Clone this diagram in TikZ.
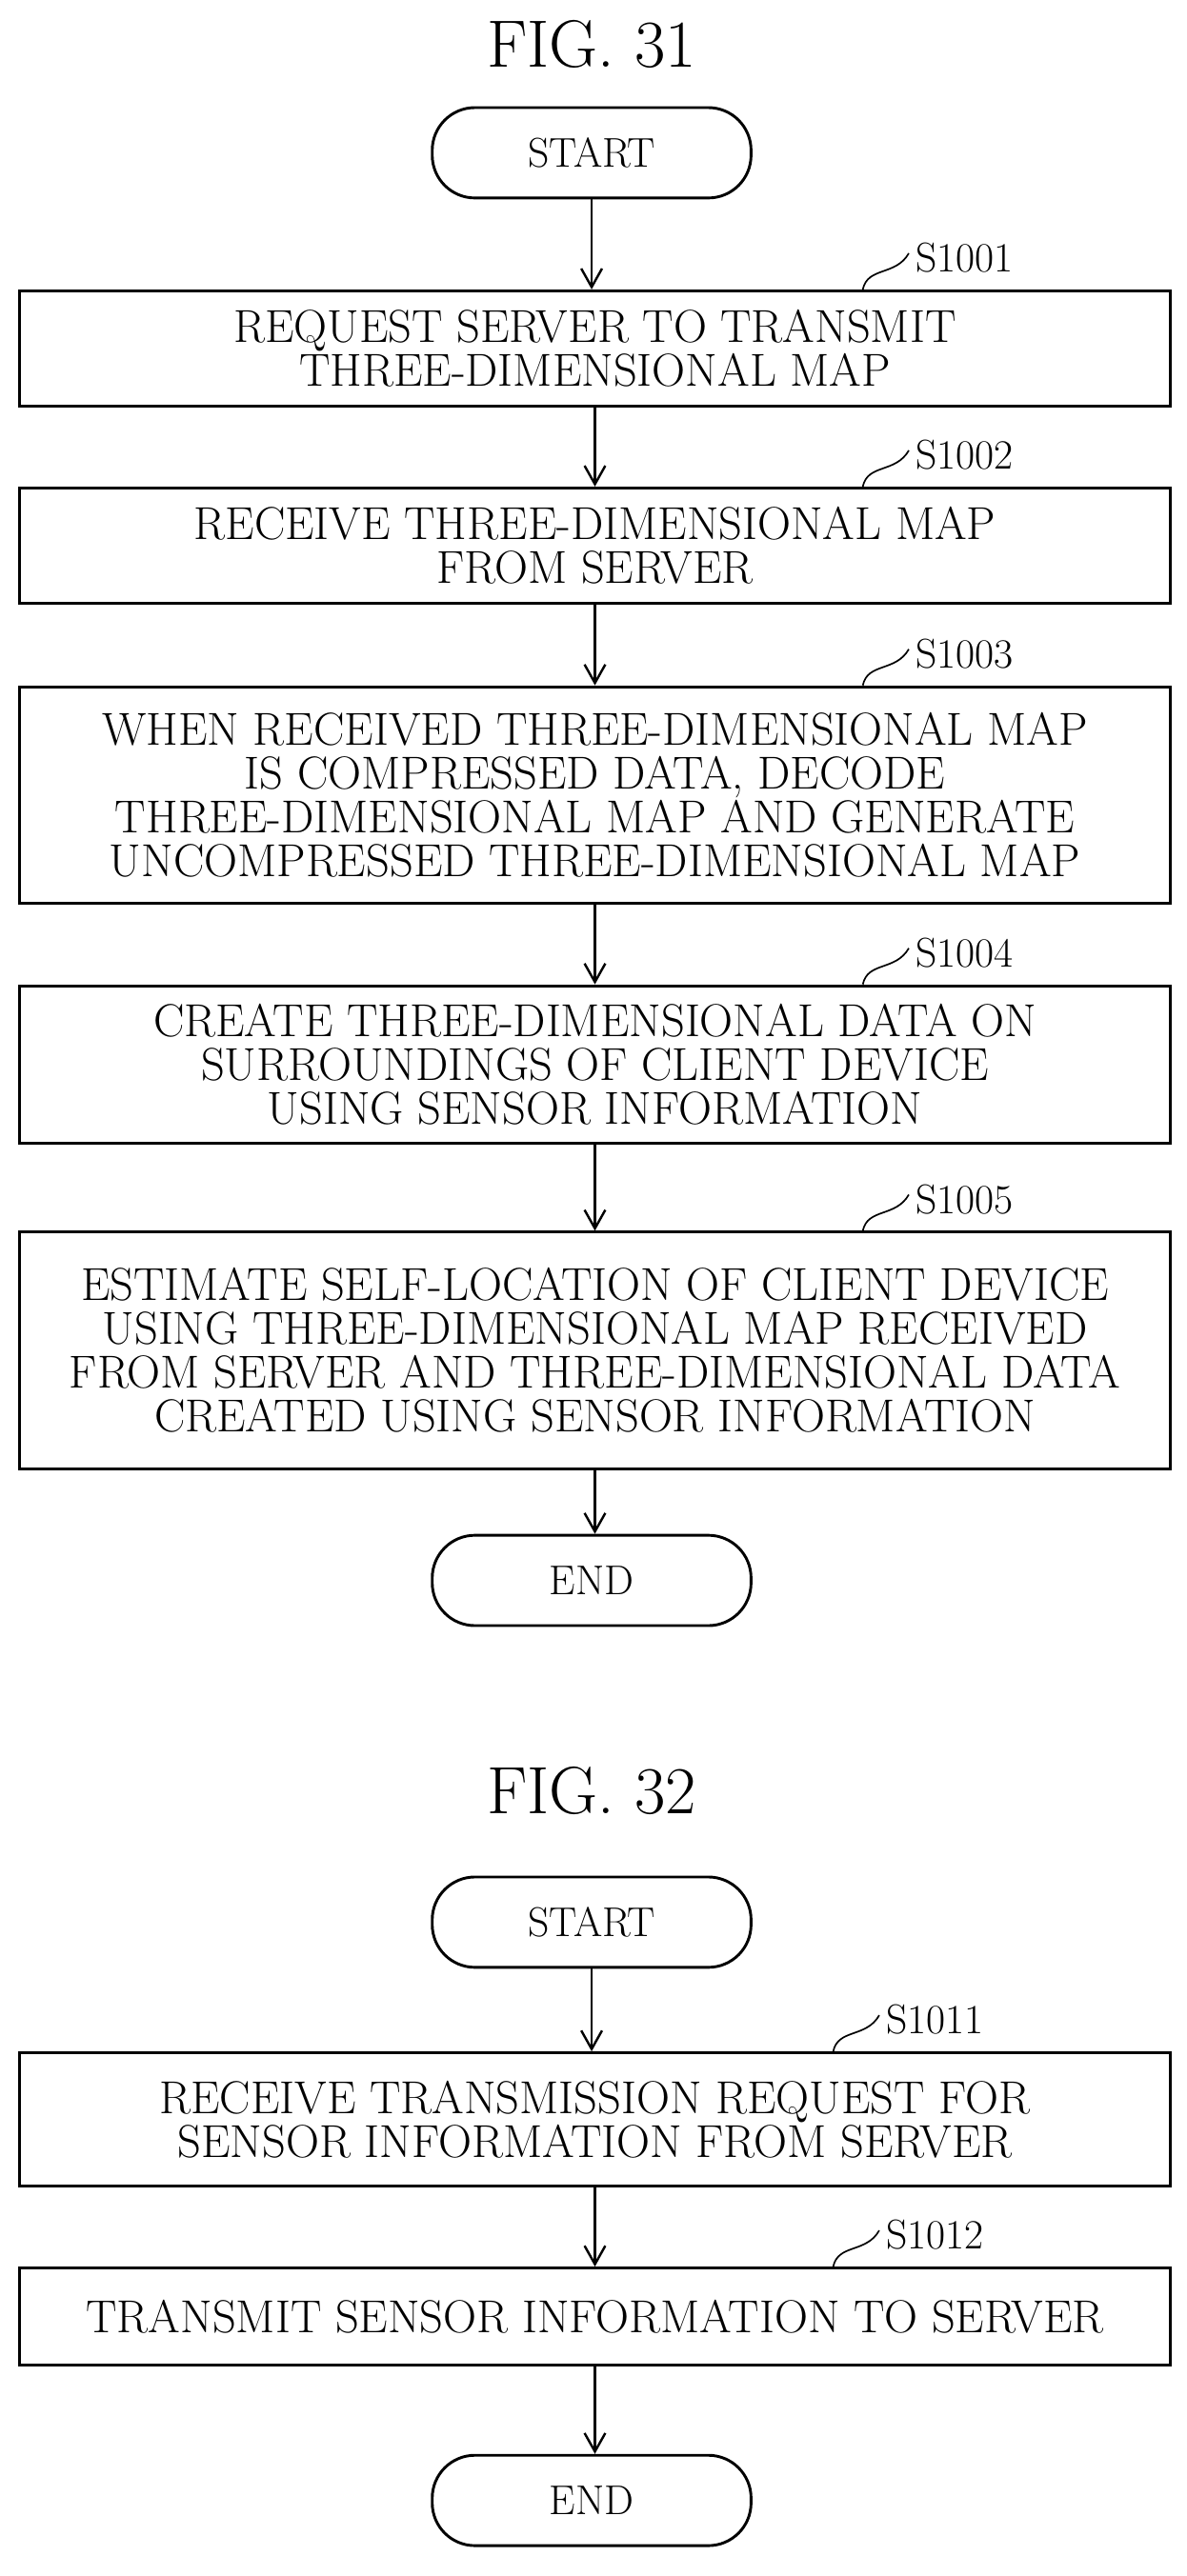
\documentclass[tikz,border=0pt]{standalone}
\usetikzlibrary{arrows.meta}
\begin{document}
\begin{tikzpicture}[x=0.05cm,y=-0.05cm,
  box/.style={draw,line width=2.4pt,minimum width=700*0.05cm,align=center,inner sep=0pt,font=\fontsize{40}{38}\selectfont},
  term/.style={draw,line width=2.4pt,rounded corners=1.3cm,minimum width=194*0.05cm,minimum height=55*0.05cm,font=\fontsize{36}{36}\selectfont},
  title/.style={font=\fontsize{58}{60}\selectfont},
  lab/.style={font=\fontsize{36}{36}\selectfont,anchor=south west,inner sep=0pt},
  arr/.style={line width=2pt,-{Straight Barb[length=16pt,width=18pt,line width=2pt]}},
  lead/.style={line width=1.4pt}]
\useasboundingbox (0,0) rectangle (722,1568);
\node[title] (t1) at (360,27) {FIG. 31};
\node[term] (st) at (360,93) {START};
\node[box,minimum height=70*0.05cm] (b1) at (362,212) {REQUEST SERVER TO TRANSMIT\\THREE-DIMENSIONAL MAP};
\node[box,minimum height=70*0.05cm] (b2) at (362,332) {RECEIVE THREE-DIMENSIONAL MAP\\FROM SERVER};
\node[box,minimum height=132*0.05cm] (b3) at (362,484) {WHEN RECEIVED THREE-DIMENSIONAL MAP\\IS COMPRESSED DATA, DECODE\\THREE-DIMENSIONAL MAP AND GENERATE\\UNCOMPRESSED THREE-DIMENSIONAL MAP};
\node[box,minimum height=96*0.05cm] (b4) at (362,648) {CREATE THREE-DIMENSIONAL DATA ON\\SURROUNDINGS OF CLIENT DEVICE\\USING SENSOR INFORMATION};
\node[box,minimum height=144*0.05cm] (b5) at (362,822) {ESTIMATE SELF-LOCATION OF CLIENT DEVICE\\USING THREE-DIMENSIONAL MAP RECEIVED\\FROM SERVER AND THREE-DIMENSIONAL DATA\\CREATED USING SENSOR INFORMATION};
\node[term] (en) at (360,962) {END};
\draw[arr] (st.south) -- (st.south|-b1.north);
\draw[arr] (b1.south) -- (b2.north);
\draw[arr] (b2.south) -- (b3.north);
\draw[arr] (b3.south) -- (b4.north);
\draw[arr] (b4.south) -- (b5.north);
\draw[arr] (b5.south) -- (b5.south|-en.north);
\foreach \b/\l in {b1/S1001,b2/S1002,b3/S1003,b4/S1004,b5/S1005}{
  \coordinate (c\b) at ([xshift=525*0.05cm-362*0.05cm]\b.north);
  \node[lab] (l\b) at ([shift={(32,-10)}]c\b) {\l};
  \draw[lead] (c\b) .. controls ([shift={(3,-14)}]c\b) and ([shift={(20,-8)}]c\b) .. ([shift={(28,-22)}]c\b);
}
\node[title] (t2) at (360,1090) {FIG. 32};
\node[term] (st2) at (360,1170) {START};
\node[box,minimum height=81*0.05cm] (b6) at (362,1290) {RECEIVE TRANSMISSION REQUEST FOR\\SENSOR INFORMATION FROM SERVER};
\node[box,minimum height=59*0.05cm] (b7) at (362,1410) {TRANSMIT SENSOR INFORMATION TO SERVER};
\node[term] (en2) at (360,1522) {END};
\draw[arr] (st2.south) -- (st2.south|-b6.north);
\draw[arr] (b6.south) -- (b7.north);
\draw[arr] (b7.south) -- (b7.south|-en2.north);
\foreach \b/\l in {b6/S1011,b7/S1012}{
  \coordinate (c\b) at ([xshift=507*0.05cm-362*0.05cm]\b.north);
  \node[lab] (l\b) at ([shift={(32,-10)}]c\b) {\l};
  \draw[lead] (c\b) .. controls ([shift={(3,-14)}]c\b) and ([shift={(20,-8)}]c\b) .. ([shift={(28,-22)}]c\b);
}
\end{tikzpicture}
\end{document}
